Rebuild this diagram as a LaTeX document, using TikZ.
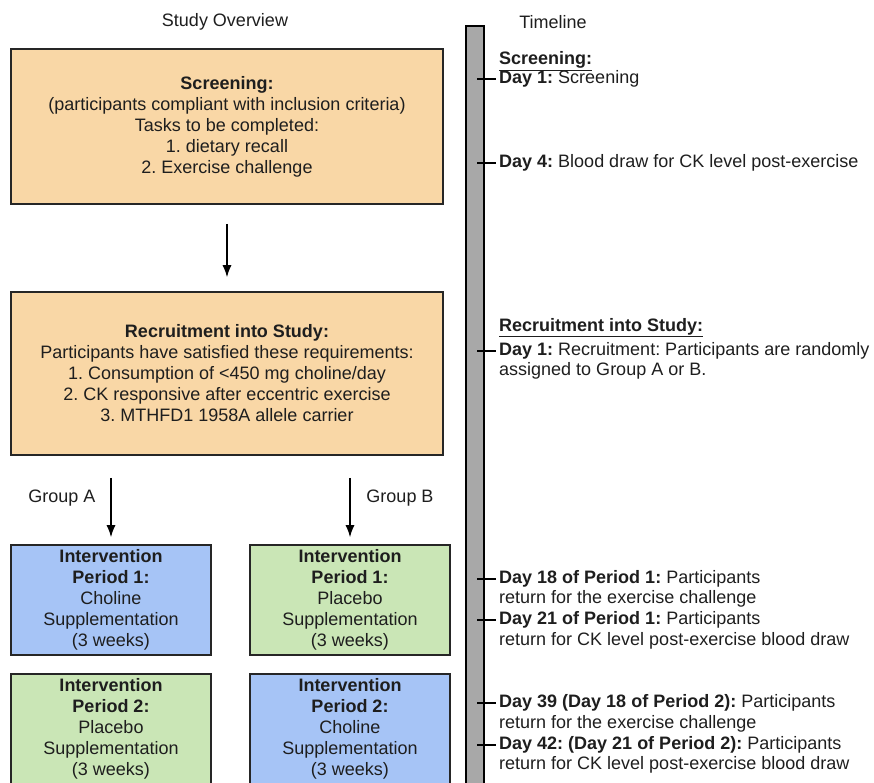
\documentclass[tikz,border=0pt]{standalone}
\usepackage{fontspec}
\setmainfont{Liberation Sans}
\usetikzlibrary{arrows.meta}
\definecolor{stageorange}{RGB}{249,215,166}
\definecolor{cholineblue}{RGB}{166,196,246}
\definecolor{placebogreen}{RGB}{202,230,182}
\definecolor{bargray}{RGB}{168,168,168}
\definecolor{inktext}{RGB}{30,30,30}
\frenchspacing

\tikzset{
	stagebox/.style={draw=black!85, line width=1.6pt, fill=stageorange, minimum width=432, align=center, inner sep=0pt},
	periodbox/.style={draw=black!85, line width=1.6pt, minimum width=200, minimum height=110, align=center, inner sep=0pt},
	flowarrow/.style={-{Latex[length=12pt,width=9pt]}, line width=1.3pt, black},
	tickmark/.style={line width=2.6pt, black},
	entry/.style={anchor=west, inner sep=0pt, text height=13, text depth=4}
}

\begin{document}
\begin{tikzpicture}[x=1pt, y=-1pt,
	every node/.style={font=\fontsize{18}{21}\selectfont, text=inktext}]

	\useasboundingbox (0,0) rectangle (874,783);

	% left column
	\node (overview) at (225,22) {Study Overview};

	\node[stagebox, minimum height=155] (screen) at (227,126.5)
		{\textbf{Screening:}\\(participants compliant with inclusion criteria)\\Tasks to be completed:\\1. dietary recall\\2. Exercise challenge};

	\node[stagebox, minimum height=163] (recruit) at (227,373.5)
		{\textbf{Recruitment into Study:}\\Participants have satisfied these requirements:\\1. Consumption of <450 mg choline/day\\2. CK responsive after eccentric exercise\\3. MTHFD1 1958A allele carrier};

	\node[periodbox, fill=cholineblue] (p1a) at (111,600)
		{\textbf{Intervention}\\\textbf{Period 1:}\\Choline\\Supplementation\\(3 weeks)};
	\node[periodbox, fill=placebogreen] (p1b) at (350,600)
		{\textbf{Intervention}\\\textbf{Period 1:}\\Placebo\\Supplementation\\(3 weeks)};
	\node[periodbox, fill=placebogreen] (p2a) at (111,729)
		{\textbf{Intervention}\\\textbf{Period 2:}\\Placebo\\Supplementation\\(3 weeks)};
	\node[periodbox, fill=cholineblue] (p2b) at (350,729)
		{\textbf{Intervention}\\\textbf{Period 2:}\\Choline\\Supplementation\\(3 weeks)};

	\node (groupa) at (62,498) {Group A};
	\node (groupb) at (400,498) {Group B};

	\draw[flowarrow, shorten <=19pt, shorten >=14pt] (screen.south) -- (recruit.north);
	\draw[flowarrow, shorten <=22pt, shorten >=7pt] (p1a.north |- recruit.south) -- (p1a.north);
	\draw[flowarrow, shorten <=22pt, shorten >=7pt] (p1b.north |- recruit.south) -- (p1b.north);

	% timeline
	\node (timeline) at (553,22) {Timeline};
	\draw[line width=1.6pt, fill=bargray] (466,26) rectangle (484,795);
	\coordinate (bar) at (477,0);

	\node[entry] (scrhead) at (499,60) {\underline{\textbf{Screening:}}};
	\node[entry] (d1) at (499,79) {\textbf{Day 1:} Screening};
	\node[entry] (d4) at (499,163) {\textbf{Day 4:} Blood draw for CK level post-exercise};

	\node[entry] (rechead) at (499,327) {\underline{\textbf{Recruitment into Study:}}};
	\node[entry] (r1) at (499,351) {\textbf{Day 1:} Recruitment: Participants are randomly};
	\node[entry] (r1b) at (499,371) {assigned to Group A or B.};

	\node[entry] (d18) at (499,579) {\textbf{Day 18 of Period 1:} Participants};
	\node[entry] (d18b) at (499,599) {return for the exercise challenge};
	\node[entry] (d21) at (499,620) {\textbf{Day 21 of Period 1:} Participants};
	\node[entry] (d21b) at (499,641) {return for CK level post-exercise blood draw};

	\node[entry] (d39) at (499,703) {\textbf{Day 39 (Day 18 of Period 2):} Participants};
	\node[entry] (d39b) at (499,724) {return for the exercise challenge};
	\node[entry] (d42) at (499,745) {\textbf{Day 42: (Day 21 of Period 2):} Participants};
	\node[entry] (d42b) at (499,765) {return for CK level post-exercise blood draw};

	\foreach \d in {d1,d4,r1,d18,d21,d39,d42}
		\draw[tickmark] (bar |- \d.west) -- ([xshift=-3pt]\d.west);

\end{tikzpicture}
\end{document}
